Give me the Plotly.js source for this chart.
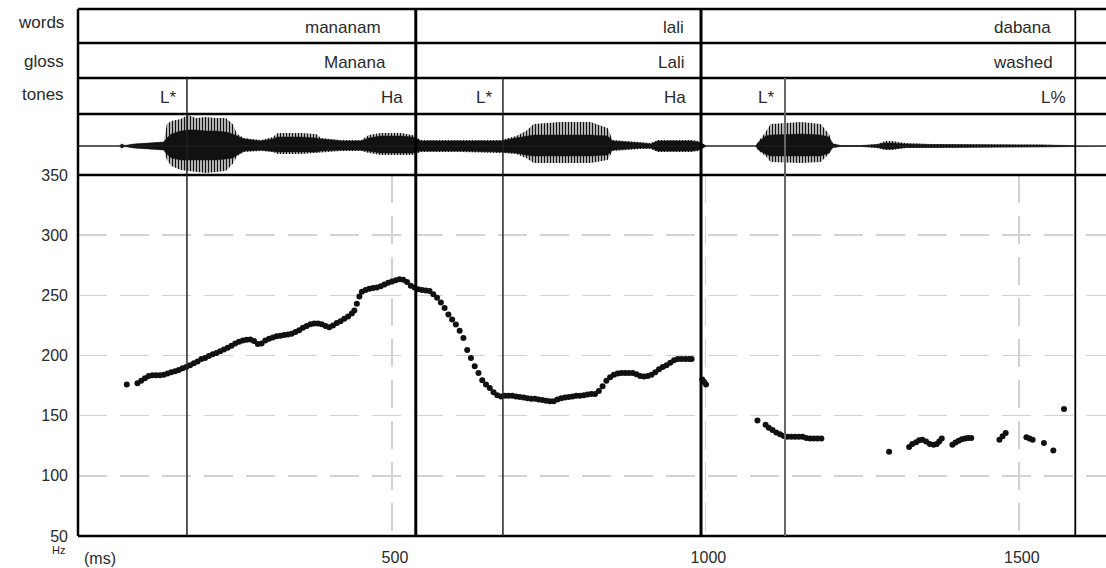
<!DOCTYPE html>
<html>
<head>
<meta charset="utf-8">
<script src="https://cdn.plot.ly/plotly-3.0.1.min.js"></script>
<style>html,body{margin:0;padding:0;background:#fff}#chart{width:1106px;height:568px}</style>
</head>
<body>
<div id="chart"></div>
<script>
// ---------- DATA ----------
const tierNames = ['words', 'gloss', 'tones'];

const words = ['mananam', 'lali', 'dabana'];
const wordEnds = [538, 993, 1590];          // ms, interval right edges
const wordLabelAt = [486, 969, 1554];       // ms, right edge of the label text

const glosses = ['Manana', 'Lali', 'washed'];
const glossLabelAt = [494, 969, 1557];

const tones = ['L*', 'Ha', 'L*', 'Ha', 'L*', 'L%'];
const toneEnds = [173, 538, 677, 993, 1127, 1590];
const toneLabelAt = [159, 521, 663, 972, 1112, 1578];

// F0 track (ms, Hz)
const pitchTime = [
  77,
  94,100,106,112,118,124,130,136,142,148,154,160,166,172,178,184,190,196,202,208,
  214,220,226,232,238,244,250,256,262,268,274,280,286,292,298,304,310,316,322,328,
  334,340,346,352,358,364,370,376,382,388,394,400,406,412,418,424,430,436,440,444,
  448,452,458,464,470,476,482,488,494,500,506,512,518,524,530,536,542,548,554,560,
  566,572,578,584,590,596,602,608,614,620,626,632,638,644,650,656,662,668,674,680,
  686,692,698,704,710,716,722,728,734,740,746,752,758,764,770,776,782,788,794,800,
  806,812,818,824,830,836,842,848,854,860,866,872,878,884,890,896,902,908,914,920,
  926,932,938,944,950,956,962,968,974,978,
  995,998,1001,
  1083,1096,1101,1107,1113,1119,1125,1131,1137,1143,1149,1155,1161,1167,1173,1179,1185,
  1293,1325,1330,1336,1341,1346,1352,1358,1364,1369,1373,1377,
  1394,1399,1404,1409,1414,1419,1424,
  1469,1474,1479,1512,1517,1522,1540,1555,1572
];
const pitchHz = [
  176,
  177,179,181,183,183.5,183.5,183.5,184,185,186,187,188,189.5,190.5,192,193.5,195,197,198,199.5,
  201,202,203.5,205,206.5,208,210,211.5,212.5,213,213.3,212,209.5,210,212.5,214,215,216,216.5,217,
  217.5,218,219.5,221,223,224.5,226,226.5,226.5,226,224.5,223.5,225,227,228.5,230.5,232.5,235,237.5,243,
  249,253,254.5,255.5,256,256.5,257.5,259,260.5,261.5,262.5,263.3,263,261,258,256.5,255,254.5,254,253.5,
  251,248,244,239.5,234,230,225.8,220.5,214.5,204.5,198,191,185.5,179.5,176,173,169.5,167,166,166.5,
  166.5,166.5,166,165.5,165,164.5,164,164,163.5,163,162.5,162,162,163.5,164.5,165,165.5,166,166.5,166.5,
  167,167.5,168,168,170.5,174.5,179,182,184,185,185.5,185.5,185.5,185.5,184.5,183,182.5,183,184,186,
  188.5,190.5,192,194,196,197,197,197,197,197,
  180,178,176,
  146,142.5,140,138,136,134.5,133,132.5,132.5,132.5,132.5,132.5,131.5,131,131,131,131,
  120,124,126.4,128,129.5,130,128.6,126.5,125.8,126.5,128.6,131,
  125.8,127.8,129.2,130.5,131,131.4,131.5,
  130,132.8,135.6,132,131,130,127.2,121,155.6
];

// Oscillogram envelope (ms; amplitudes in screen pixels above / below the zero line)
const waveTime = [0,65,69,74,88,116,136,141,148,163,175,187,203,219,235,246,253,264,291,310,318,355,379,387,419,451,463,482,514,533,546,610,674,698,714,726,769,817,844,852,897,913,924,977,989,998,1002,1080,1085,1096,1104,1153,1184,1197,1203,1216,1248,1274,1287,1298,1319,1359,1407,1471,1535,1583,1591,1640];
const waveUp   = [0,0,2,0.5,2,3,4,22,25,27,31,28,29,28,28,22,12,8,6,9,13,13,12,8,6,6,11,13,13,11,6,6,6,10,15,22,24,24,18,6,4,3,6,6,5,1,0,0,5,14,22,24,22,12,3,0.5,0.5,2,5,5,3,2,2,2,1.5,0.5,0,0];
const waveDown = [0,0,2,0.5,2,3,4,14,20,24,25,26,27,26,25,18,10,6,5,6,8,8,7,6,5,5,7,9,9,9,6,6,7,8,12,17,17,17,14,5,3,3,6,6,5,1,0,0,5,10,16,17,16,8,2,0.5,0.5,2,4,4,2,2,1.5,1.5,1,0.5,0,0];
const coreUp   = [0,0,2,0.5,2,3,4,8,12,15,16,16,15,15,14,12,10,7,5,7,9,9,8,7,5,5,8,10,10,9,5,5,5,8,10,11,11,11,10,5,3,2,5,5,4,1,0,0,4,10,11,12,11,9,2,0.5,0.5,1.5,3,3,2,1.5,1.5,1.5,1,0.5,0,0];
const coreDown = [0,0,2,0.5,2,3,4,8,12,14,14,14,14,14,13,12,9,5,4,5,6,6,6,5,4,4,5,7,7,7,5,5,6,7,9,10,10,10,9,4,2,2,5,5,4,1,0,0,4,8,10,10,10,7,1.5,0.5,0.5,1.5,3,3,1.5,1.5,1,1,1,0.5,0,0];

const yTicks = [50, 100, 150, 200, 250, 300, 350];
const xTicks = [500, 1000, 1500];

// ---------- LAYOUT HELPERS ----------
const H = 568, W = 1106;
const plotTop = 9, plotBottom = 536;
const py = y => (plotBottom - y) / (plotBottom - plotTop);   // pixel row -> paper
const rows = {words: [9, 43], gloss: [43, 78], tones: [78, 114], wave: [114, 175], pitch: [175, 536]};
const FONT = 'Liberation Sans, Arial, sans-serif';
const TXT = '#2a2a2a';
const GRID = '#d2d2d2';

const neg = a => a.map(v => -v);

const traces = [
  {x: waveTime, y: neg(waveDown), xaxis: 'x2', yaxis: 'y2', mode: 'lines', line: {width: 0, color: '#000'}, hoverinfo: 'skip', showlegend: false},
  {x: waveTime, y: waveUp, xaxis: 'x2', yaxis: 'y2', mode: 'lines', line: {width: 0, color: '#000'}, fill: 'tonexty',
   fillcolor: 'rgba(0,0,0,0.55)', fillpattern: {shape: '|', fgcolor: '#111', bgcolor: '#fff', size: 3, solidity: 0.55},
   hoverinfo: 'skip', showlegend: false},
  {x: waveTime, y: neg(coreDown), xaxis: 'x2', yaxis: 'y2', mode: 'lines', line: {width: 0.5, color: '#111'}, hoverinfo: 'skip', showlegend: false},
  {x: waveTime, y: coreUp, xaxis: 'x2', yaxis: 'y2', mode: 'lines', line: {width: 0.5, color: '#111'}, fill: 'tonexty',
   fillcolor: '#111', hoverinfo: 'skip', showlegend: false},
  {x: pitchTime, y: pitchHz, xaxis: 'x', yaxis: 'y', mode: 'markers', marker: {size: 6, color: '#111'}, showlegend: false}
];

const shapes = [];
// horizontal frame lines
[9, 43, 78, 114, 175, 536].forEach(y => shapes.push({type: 'line', xref: 'paper', yref: 'paper', x0: 0, x1: 1, y0: py(y), y1: py(y), line: {color: '#000', width: 2.5}}));
// left frame
shapes.push({type: 'line', xref: 'paper', yref: 'paper', x0: 0, x1: 0, y0: 0, y1: 1, line: {color: '#000', width: 2.5}});
// waveform zero line
shapes.push({type: 'line', xref: 'paper', yref: 'y2', x0: 0, x1: 1, y0: 0, y1: 0, line: {color: '#222', width: 1}});
// word boundaries (full height)
wordEnds.forEach((t, i) => shapes.push({type: 'line', xref: 'x', yref: 'paper', x0: t, x1: t, y0: 0, y1: 1,
  line: {color: '#000', width: i < wordEnds.length - 1 ? 3 : 1.8}}));
// tone boundaries (from tones tier down)
toneEnds.forEach(t => {
  if (wordEnds.includes(t)) return;
  shapes.push({type: 'line', xref: 'x', yref: 'paper', x0: t, x1: t, y0: 0, y1: py(rows.tones[0]),
    line: {color: t > 1000 ? '#666' : '#222', width: t > 1000 ? 2 : 1.5}});
});

const annotations = [];
// tier names on the left
const leftCenters = {words: 22.5, gloss: 61.5, tones: 94.5};
tierNames.forEach(n => annotations.push({text: n, xref: 'paper', yref: 'paper', x: 0, xshift: -12, xanchor: 'right',
  y: py(leftCenters[n]), yanchor: 'middle', showarrow: false, font: {family: FONT, size: 17, color: TXT}}));
const tierCenters = {words: 27.5, gloss: 62.5, tones: 97.5};
function tierLabels(labels, at, tier) {
  labels.forEach((s, i) => annotations.push({text: s, xref: 'x', yref: 'paper', x: at[i], xanchor: 'right',
    y: py(tierCenters[tier]), yanchor: 'middle', showarrow: false, font: {family: FONT, size: 17, color: TXT}}));
}
tierLabels(words, wordLabelAt, 'words');
tierLabels(glosses, glossLabelAt, 'gloss');
tierLabels(tones, toneLabelAt, 'tones');
// unit labels
annotations.push({text: '(ms)', xref: 'paper', yref: 'paper', x: 0, xshift: 4, xanchor: 'left', y: py(558), yanchor: 'middle',
  showarrow: false, font: {family: FONT, size: 16, color: TXT}});
annotations.push({text: 'Hz', xref: 'paper', yref: 'paper', x: 0, xshift: -11, xanchor: 'right', y: py(550), yanchor: 'middle',
  showarrow: false, font: {family: FONT, size: 11, color: TXT}});

const layout = {
  width: W, height: H,
  margin: {l: 78, r: 0, t: plotTop, b: H - plotBottom, pad: 0},
  paper_bgcolor: '#fff', plot_bgcolor: '#fff',
  showlegend: false,
  font: {family: FONT, color: TXT},
  xaxis: {range: [-0.8, 1639], anchor: 'y', tickvals: xTicks, ticktext: xTicks.map(String), ticks: '',
    showgrid: true, gridcolor: GRID, gridwidth: 1.5, griddash: '28px,13px', zeroline: false, showline: false,
    tickfont: {family: FONT, size: 16, color: TXT}, ticklabelstandoff: 10, ticklabelshift: 3, fixedrange: true},
  yaxis: {domain: [0, py(175)], range: [50, 350], tickvals: yTicks, ticktext: yTicks.map(String), ticks: '',
    showgrid: true, gridcolor: GRID, gridwidth: 1.5, griddash: '29px,13px', zeroline: false, showline: false,
    tickfont: {family: FONT, size: 16, color: TXT}, ticklabelstandoff: 9, fixedrange: true},
  xaxis2: {matches: 'x', anchor: 'y2', visible: false, showgrid: false},
  yaxis2: {domain: [py(175), py(114)], range: [-29, 32], visible: false, showgrid: false, zeroline: false, fixedrange: true},
  shapes: shapes,
  annotations: annotations
};

Plotly.newPlot('chart', traces, layout, {staticPlot: true, displayModeBar: false});
</script>
</body>
</html>
